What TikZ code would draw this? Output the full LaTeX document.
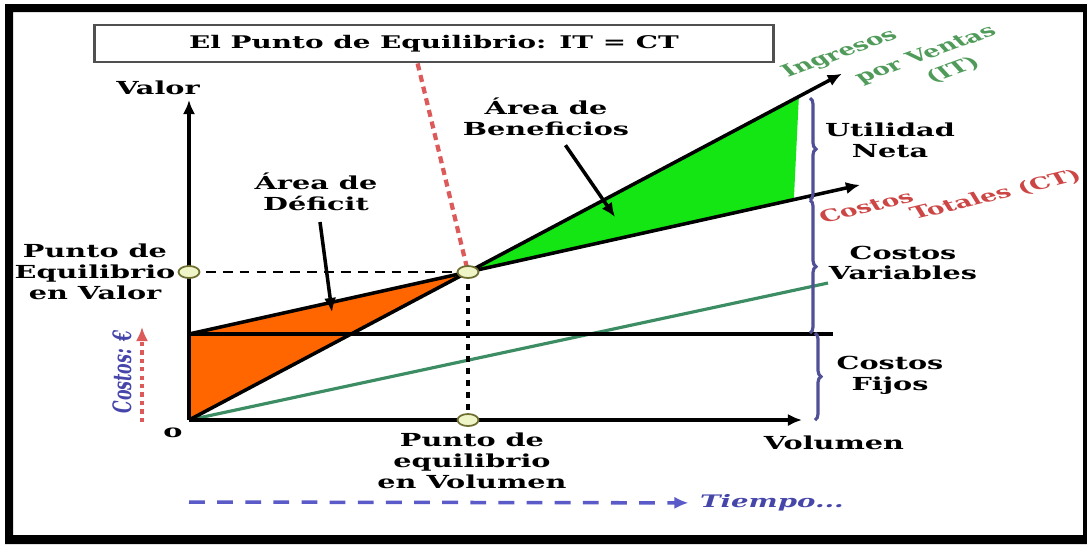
\documentclass[tikz,border=0pt]{standalone}
\usepackage{fontspec}
\setmainfont{DejaVu Serif}
\usetikzlibrary{shapes.geometric,decorations.pathreplacing,arrows.meta,calc}
\definecolor{naranja}{RGB}{255,102,0}
\definecolor{verdeclaro}{RGB}{20,230,20}
\definecolor{verdeazul}{RGB}{60,140,100}
\definecolor{indigo}{RGB}{80,80,150}
\definecolor{rojizo}{RGB}{220,90,90}
\definecolor{azulado}{RGB}{90,90,200}
\definecolor{oliva}{RGB}{110,110,50}
\definecolor{crema}{RGB}{240,245,200}
\definecolor{gris}{RGB}{80,80,80}
\definecolor{textoverde}{RGB}{80,155,90}
\definecolor{textorojo}{RGB}{205,70,70}
\definecolor{textoazul}{RGB}{70,70,170}
\begin{document}
\begin{tikzpicture}[x=0.01cm, y=-0.01cm, >={Latex[length=4pt,width=3.5pt]},
		txt/.style = {font=\bfseries\fontsize{5.1}{5.9}\selectfont, xscale=1.6, align=center, inner sep=0pt},
		giro/.style = {font=\bfseries\fontsize{4.7}{5.5}\selectfont, xscale=1.6, inner sep=0pt},
		pto/.style = {draw=oliva, fill=crema, ellipse, line width=0.5pt, minimum width=0.21cm, minimum height=0.12cm, inner sep=0pt},
		llave/.style = {draw=indigo, line width=0.9pt, decorate, decoration={brace, amplitude=0.06cm}},
		flecha/.style = {->, line width=1pt}]
		\useasboundingbox (0,0) rectangle (1087,544);
		\fill[black, even odd rule] (5,4) rectangle (1087,544) (13,12) rectangle (1083,535);
		\coordinate (o) at (189,420);
		\coordinate (cf) at (189,334);
		\coordinate (pv) at (189,272);
		\coordinate (pe) at (468,272);
		\coordinate (px) at (468,420);
		\coordinate (ejey) at (189,100);
		\coordinate (ejex) at (802,420);
		\coordinate (it) at ($(o)!2.34!(pe)$);
		\coordinate (ct) at ($(cf)!2.405!(pe)$);
		\coordinate (cfin) at (833,334);
		\coordinate (cv) at (828,283);
		\fill[naranja] (cf) -- (pe) -- (o) -- cycle;
		\fill[verdeclaro] (pe) -- ($(o)!2.186!(pe)$) -- ($(cf)!2.168!(pe)$) -- cycle;
		\draw[verdeazul, line width=0.9pt] (o) -- (cv);
		\draw[line width=0.9pt] (cf) -- (cfin);
		\draw[->, line width=0.9pt] (o) -- (ejey);
		\draw[->, line width=0.9pt] (o) -- (ejex);
		\draw[->, line width=1pt] (o) -- (it);
		\draw[->, line width=1pt] (cf) -- (ct);
		\draw[dash pattern=on 2.8pt off 2pt, line width=0.8pt] (pv) -- (pe);
		\draw[dash pattern=on 1.7pt off 1.7pt, line width=0.9pt] (pe) -- (px);
		\node[txt, font=\bfseries\fontsize{4.95}{5.9}\selectfont, draw=gris, line width=0.8pt, minimum width=4.24cm, minimum height=0.37cm] (titulo) at (434,43.5) {El Punto de Equilibrio: IT = CT};
		\draw[rojizo, dash pattern=on 2pt off 1.4pt, line width=1.2pt] ($(titulo.south west)!0.476!(titulo.south east)$) -- (pe);
		\coordinate (b1) at (810,98);
		\coordinate (b2) at (810,200);
		\coordinate (b3) at (810,333);
		\coordinate (b4) at (815,333);
		\coordinate (b5) at (815,420);
		\draw[llave] (b1) -- (b2);
		\draw[llave] (b2) -- (b3);
		\draw[llave] (b4) -- (b5);
		\node[pto] (npv) at (pv) {};
		\node[pto] (npe) at (pe) {};
		\node[pto] (npx) at (px) {};
		\node[txt] (valor) at (158,88) {Valor};
		\node[txt] (pvalor) at (95,272) {Punto de\\Equilibrio\\en Valor};
		\node[txt] (cero) at (173,433) {o};
		\node[txt] (deficit) at (316,192) {Área de\\Déficit};
		\coordinate (d1) at (332,312);
		\draw[flecha, shorten <=3pt] (deficit) -- (d1);
		\node[txt] (benef) at (546,117) {Área de\\Beneficios};
		\coordinate (g1) at (615,217);
		\draw[flecha, shorten <=3pt] (benef) -- (g1);
		\node[txt] (utilidad) at (890,140) {Utilidad\\Neta};
		\node[txt] (cvar) at (903,263) {Costos\\Variables};
		\node[txt] (cfijo) at (890,375) {Costos\\Fijos};
		\node[txt] (volumen) at (834,443) {Volumen};
		\node[txt] (pvol) at (472,461) {Punto de\\equilibrio\\en Volumen};
		\node[giro, textoverde, rotate=30] (ingresos) at (840,54) {Ingresos};
		\node[giro, textoverde, rotate=30] (ventas) at (926,55) {por Ventas};
		\node[giro, textoverde, rotate=30] (itx) at (953,70) {(IT)};
		\node[giro, textorojo, rotate=21] (costos) at (866,207) {Costos};
		\node[giro, textorojo, rotate=21] (totales) at (996,195) {Totales (CT)};
		\node[txt, textoazul, font=\bfseries\itshape\fontsize{4.9}{5.9}\selectfont] (tiempo) at (772,503) {Tiempo...};
		\coordinate (t0) at (189,502);
		\draw[->, azulado, dash pattern=on 4.5pt off 3.5pt, line width=1pt, shorten >=3pt] (t0) -- (tiempo);
		\node[txt, textoazul, font=\bfseries\itshape\fontsize{4.5}{6}\selectfont, rotate=90] (euros) at (122,372) {Costos: €};
		\coordinate (r0) at (142,422);
		\coordinate (r1) at (142,327);
		\draw[->, rojizo, dash pattern=on 1.2pt off 1.2pt, line width=1pt] (r0) -- (r1);
	\end{tikzpicture}
\end{document}
